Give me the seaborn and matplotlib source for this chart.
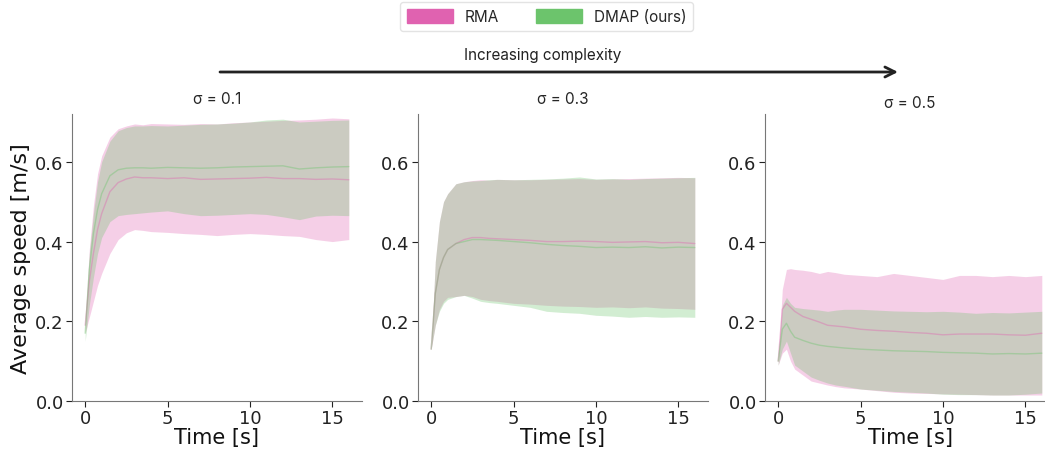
import numpy as np
import pandas as pd
import matplotlib.pyplot as plt
import seaborn as sns
from matplotlib.patches import Patch

# time grid used for all runs (s)
time_s = [0, 0.25, 0.5, 0.75, 1, 1.5, 2, 2.5, 3, 3.5, 4, 5, 6, 7, 8, 9, 10, 11, 12, 13, 14, 15, 16]

sigmas = ["0.1", "0.3", "0.5"]
methods = ["RMA", "DMAP (ours)"]

# sigma = 0.1
rma_mean_01 = [0.19, 0.30, 0.37, 0.43, 0.47, 0.525, 0.548, 0.557, 0.562, 0.560, 0.560, 0.558, 0.560, 0.556, 0.557, 0.558, 0.559, 0.561, 0.558, 0.558, 0.556, 0.557, 0.555]
rma_lo_01 = [0.17, 0.21, 0.25, 0.29, 0.32, 0.37, 0.405, 0.422, 0.43, 0.428, 0.425, 0.423, 0.420, 0.418, 0.415, 0.418, 0.420, 0.418, 0.415, 0.413, 0.405, 0.400, 0.405]
rma_hi_01 = [0.21, 0.38, 0.49, 0.57, 0.615, 0.662, 0.683, 0.690, 0.695, 0.693, 0.696, 0.695, 0.694, 0.696, 0.695, 0.698, 0.700, 0.702, 0.704, 0.705, 0.707, 0.710, 0.708]
dmap_mean_01 = [0.17, 0.33, 0.42, 0.48, 0.52, 0.565, 0.580, 0.584, 0.585, 0.585, 0.584, 0.586, 0.585, 0.584, 0.585, 0.587, 0.588, 0.589, 0.590, 0.582, 0.585, 0.587, 0.588]
dmap_lo_01 = [0.15, 0.24, 0.31, 0.37, 0.41, 0.45, 0.465, 0.468, 0.470, 0.472, 0.474, 0.477, 0.470, 0.465, 0.466, 0.468, 0.470, 0.468, 0.462, 0.455, 0.464, 0.466, 0.465]
dmap_hi_01 = [0.19, 0.37, 0.47, 0.55, 0.60, 0.652, 0.678, 0.686, 0.690, 0.690, 0.691, 0.690, 0.692, 0.694, 0.695, 0.697, 0.700, 0.705, 0.707, 0.700, 0.702, 0.704, 0.705]

# sigma = 0.3
rma_mean_03 = [0.13, 0.27, 0.33, 0.36, 0.38, 0.395, 0.405, 0.410, 0.410, 0.408, 0.407, 0.405, 0.403, 0.400, 0.400, 0.401, 0.400, 0.398, 0.399, 0.400, 0.397, 0.398, 0.395]
rma_lo_03 = [0.13, 0.19, 0.23, 0.25, 0.26, 0.262, 0.265, 0.262, 0.255, 0.252, 0.250, 0.245, 0.243, 0.240, 0.238, 0.237, 0.235, 0.236, 0.234, 0.236, 0.233, 0.232, 0.230]
rma_hi_03 = [0.13, 0.35, 0.45, 0.50, 0.52, 0.545, 0.550, 0.553, 0.555, 0.554, 0.556, 0.555, 0.555, 0.556, 0.557, 0.558, 0.556, 0.557, 0.558, 0.559, 0.560, 0.561, 0.560]
dmap_mean_03 = [0.13, 0.27, 0.33, 0.36, 0.38, 0.395, 0.400, 0.405, 0.405, 0.404, 0.403, 0.400, 0.397, 0.393, 0.390, 0.388, 0.385, 0.386, 0.385, 0.387, 0.384, 0.386, 0.385]
dmap_lo_03 = [0.13, 0.19, 0.225, 0.245, 0.255, 0.262, 0.265, 0.258, 0.250, 0.247, 0.245, 0.240, 0.235, 0.225, 0.222, 0.220, 0.215, 0.213, 0.210, 0.212, 0.210, 0.211, 0.210]
dmap_hi_03 = [0.13, 0.35, 0.45, 0.50, 0.52, 0.545, 0.550, 0.552, 0.553, 0.555, 0.556, 0.555, 0.556, 0.557, 0.559, 0.562, 0.557, 0.558, 0.556, 0.558, 0.559, 0.560, 0.561]

# sigma = 0.5
rma_mean_05 = [0.10, 0.23, 0.245, 0.235, 0.225, 0.212, 0.205, 0.198, 0.190, 0.188, 0.186, 0.180, 0.177, 0.175, 0.172, 0.170, 0.166, 0.168, 0.168, 0.168, 0.166, 0.165, 0.170]
rma_lo_05 = [0.09, 0.12, 0.13, 0.10, 0.08, 0.065, 0.050, 0.045, 0.040, 0.036, 0.033, 0.030, 0.026, 0.022, 0.020, 0.019, 0.018, 0.017, 0.016, 0.015, 0.015, 0.015, 0.015]
rma_hi_05 = [0.10, 0.28, 0.33, 0.332, 0.330, 0.328, 0.325, 0.320, 0.325, 0.322, 0.318, 0.315, 0.312, 0.320, 0.315, 0.310, 0.305, 0.315, 0.315, 0.312, 0.315, 0.312, 0.315]
dmap_mean_05 = [0.10, 0.18, 0.195, 0.175, 0.160, 0.152, 0.145, 0.140, 0.137, 0.135, 0.133, 0.130, 0.128, 0.126, 0.125, 0.124, 0.122, 0.121, 0.120, 0.118, 0.119, 0.118, 0.120]
dmap_lo_05 = [0.09, 0.13, 0.15, 0.12, 0.09, 0.075, 0.060, 0.052, 0.045, 0.040, 0.037, 0.030, 0.027, 0.024, 0.022, 0.020, 0.017, 0.016, 0.016, 0.015, 0.015, 0.017, 0.020]
dmap_hi_05 = [0.12, 0.24, 0.26, 0.245, 0.235, 0.232, 0.230, 0.228, 0.225, 0.228, 0.230, 0.230, 0.228, 0.226, 0.225, 0.224, 0.225, 0.223, 0.220, 0.222, 0.221, 0.223, 0.225]

runs = {
    "0.1": {"RMA": (rma_mean_01, rma_lo_01, rma_hi_01), "DMAP (ours)": (dmap_mean_01, dmap_lo_01, dmap_hi_01)},
    "0.3": {"RMA": (rma_mean_03, rma_lo_03, rma_hi_03), "DMAP (ours)": (dmap_mean_03, dmap_lo_03, dmap_hi_03)},
    "0.5": {"RMA": (rma_mean_05, rma_lo_05, rma_hi_05), "DMAP (ours)": (dmap_mean_05, dmap_lo_05, dmap_hi_05)},
}

colors = {"RMA": "#e062b0", "DMAP (ours)": "#6cc46c"}

sns.set_style("ticks")
plt.rcParams["font.family"] = ["DejaVu Sans"]

fig = plt.figure(figsize=(10.45, 4.56), dpi=100)
lefts = [72 / 1045, 418 / 1045, 765 / 1045]
W, B, H = 290 / 1045, 1 - 402 / 456, 287 / 456

for i, sig in enumerate(sigmas):
    ax = fig.add_axes([lefts[i], B, W, H])
    for m in methods:
        mean, lo, hi = runs[sig][m]
        df = pd.DataFrame({"t": time_s, "v": mean})
        ax.fill_between(time_s, lo, hi, color=colors[m], alpha=0.3, linewidth=0)
        sns.lineplot(data=df, x="t", y="v", ax=ax, color=colors[m], lw=1.0, alpha=0.4)
    ax.set_ylim(0, 0.72)
    ax.set_xlim(-0.8, 16.8)
    ax.set_yticks([0.0, 0.2, 0.4, 0.6])
    ax.set_xticks([0, 5, 10, 15])
    ax.tick_params(labelsize=13, colors="#222222", length=4, pad=2)
    ax.set_xlabel("Time [s]", fontsize=15, labelpad=0, color="#111111")
    ax.set_ylabel("Average speed [m/s]" if i == 0 else "", fontsize=16, color="#111111", labelpad=3)
    ax.set_title(f"σ = {sig}", fontsize=11, family="Inter", pad=8 if i < 2 else 5)
    for s in ["left", "bottom"]:
        ax.spines[s].set_color("#777777")
    sns.despine(ax=ax)

# legend and arrow across the top
handles = [Patch(color=colors[m], label=m) for m in methods]
fig.legend(handles=handles, loc="upper center", bbox_to_anchor=(0.523, 1.01), ncol=2,
           frameon=True, prop={"family": "Inter", "size": 11}, handlelength=3.0,
           handleheight=1.0, columnspacing=2.4, borderpad=0.45, edgecolor="#dddddd")

fig.add_artist(plt.Annotation("", xy=(898 / 1045, 1 - 73 / 456), xytext=(220 / 1045, 1 - 73 / 456),
                              xycoords="figure fraction", textcoords="figure fraction",
                              arrowprops=dict(arrowstyle="->", lw=2, color="#222222",
                                              shrinkA=0, shrinkB=0, mutation_scale=18)))
fig.text(543 / 1045, 1 - 56 / 456, "Increasing complexity", ha="center", va="center",
         fontsize=11, family="Inter", color="#222222")

fig.savefig("out.png", dpi=100)
